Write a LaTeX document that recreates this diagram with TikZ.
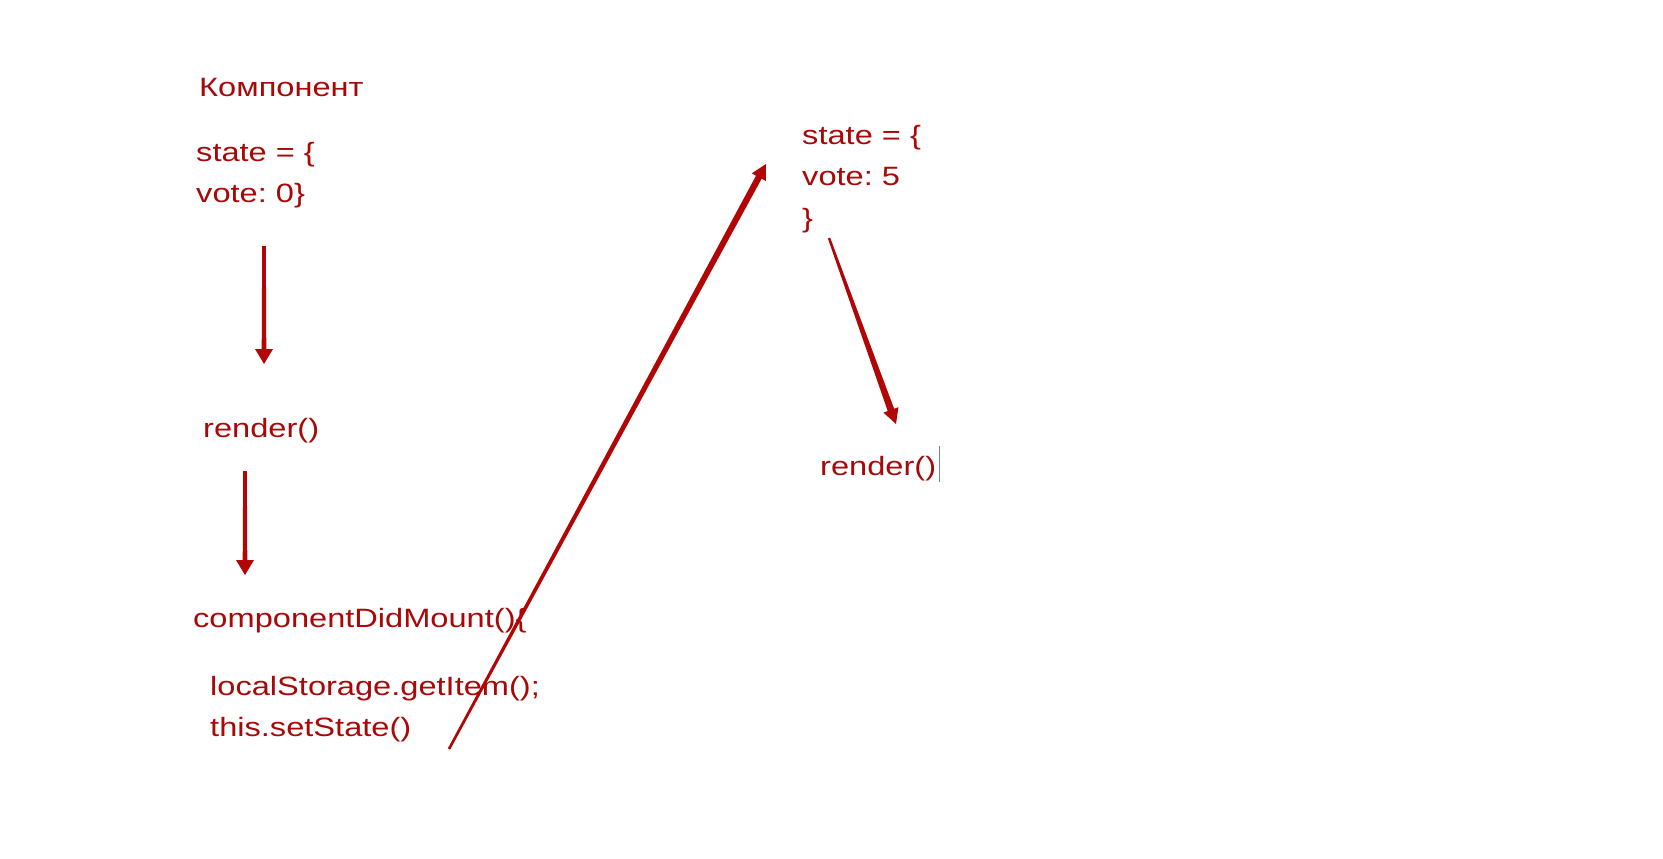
\documentclass[tikz,border=0pt]{standalone}
\usepackage{fontspec}
\setmainfont[FakeStretch=1.23]{Liberation Sans}
\usetikzlibrary{calc}
\definecolor{dred}{RGB}{178,6,6}
\definecolor{tred}{RGB}{168,8,8}
\newcommand\taparr[5]{% from, to, tail half-width, shaft half-width at head, head half-width
  \coordinate (ta) at (#1);
  \coordinate (tb) at (#2);
  \coordinate (tc) at ($(tb)!15pt!(ta)$);
  \fill[dred] ($(ta)!#3!90:(tb)$) -- ($(tc)!#4!-90:(ta)$) -- ($(tc)!#5!-90:(ta)$) -- (tb)
    -- ($(tc)!#5!90:(ta)$) -- ($(tc)!#4!90:(ta)$) -- ($(ta)!#3!-90:(tb)$) -- cycle;}
\tikzset{
  lbl/.style={anchor=base west, inner sep=0pt, text=tred, font=\fontsize{26.5}{41.5}\selectfont\frenchspacing, align=left},
}
\begin{document}
\begin{tikzpicture}[x=1pt,y=-1pt]
\useasboundingbox[fill=white] (0,0) rectangle (1663,859);
\node[lbl] (komp) at (199,96) {Компонент};
\node[lbl] (st0) at (196,202.7) {state = \{\\vote: 0\}};
\node[lbl] (r1) at (203,437) {render()};
\node[lbl] (cdm) at (193,627) {componentDidMount()\{};
\node[lbl] (body) at (210,736.5) {localStorage.getItem();\\this.setState()};
\node[lbl] (st5) at (802,227) {state = \{\\vote: 5\\\}};
\node[lbl] (r2) at (820,475) {render()};
\draw[gray, line width=1pt] (r2.base east) ++(3,-29) coordinate (cur1) -- ++(0,36) coordinate (cur2);
\coordinate (a1s) at (264,246);
\coordinate (a1e) at (264,364);
\coordinate (a2s) at (245,471);
\coordinate (a2e) at (245,575);
\coordinate (a3s) at (449,749);
\coordinate (a3e) at (766,164);
\coordinate (a4s) at (829,238);
\coordinate (a4e) at (896,424);
\taparr{a1s}{a1e}{1.8pt}{2.3pt}{9pt}
\taparr{a2s}{a2e}{1.8pt}{2.3pt}{9pt}
\taparr{a3s}{a3e}{1.3pt}{3.2pt}{8pt}
\taparr{a4s}{a4e}{1.2pt}{3.4pt}{8pt}
\end{tikzpicture}
\end{document}
